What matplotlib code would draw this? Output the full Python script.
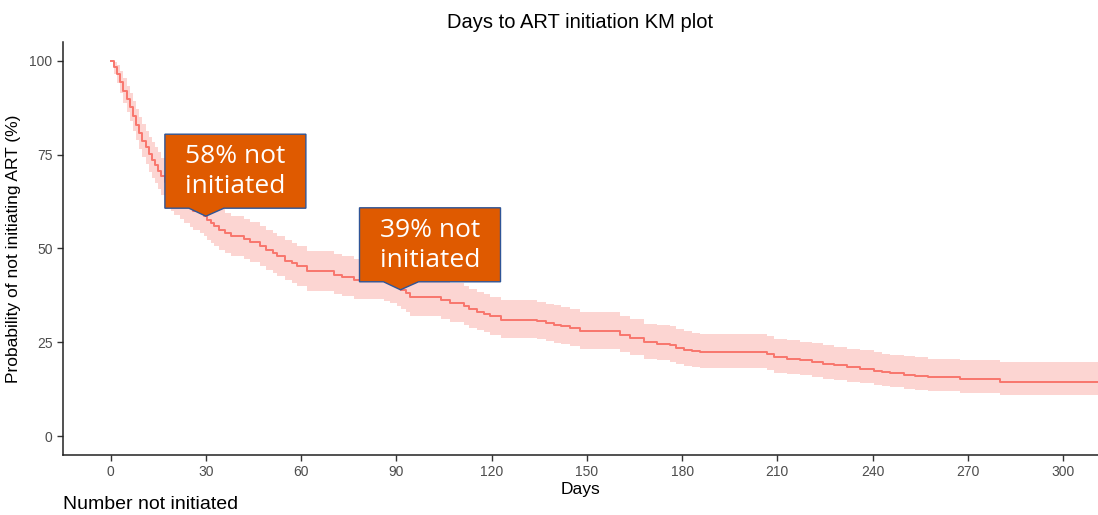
import matplotlib
matplotlib.use("Agg")
import matplotlib.pyplot as plt
import matplotlib.transforms as mtransforms
from matplotlib.patches import Polygon

# KM estimate (step function, value holds from each time onward)
days = [0, 1, 2, 3, 4, 5, 6, 7, 8, 9, 10, 11, 12, 13, 14, 15, 16, 17, 18, 19, 20, 22, 23,
        25, 26, 28, 29.4, 30.5, 31.5, 32.5, 34, 36, 37.8, 42, 44, 47.2, 49, 51, 52.5, 55,
        57, 58.8, 61.9, 70.3, 73, 76.6, 86, 88, 90.2, 91.3, 93, 94.4, 103.9, 107, 111.2,
        113, 115.4, 117.5, 119.6, 122.8, 134.3, 137, 139.5, 142, 144.8, 147.9, 160.5,
        163.7, 167.9, 172, 176.3, 178, 180.5, 183, 185.7, 206.7, 208.8, 213, 217.2, 221,
        224.5, 228, 231.9, 236, 240.3, 243, 245.5, 250, 253.4, 257.6, 267.5, 280, 311]
surv = [100, 98.3, 96.5, 94.3, 92, 89.8, 87.6, 85.3, 83, 80.8, 78.7, 76.9, 75.1, 73.6,
        72.2, 70.7, 69.2, 67.8, 66.5, 65.3, 64.2, 63.2, 62.1, 61.1, 60.1, 59.5, 58.6, 57.6,
        56.8, 56.0, 55.0, 54.0, 53.3, 52.4, 51.6, 50.6, 49.6, 48.7, 47.9, 46.8, 46.1, 45.3,
        43.9, 43.0, 42.5, 41.7, 41.3, 40.6, 39.9, 39.0, 38.2, 37.2, 36.4, 35.5, 34.6, 33.9,
        33.2, 32.6, 31.9, 31.0, 30.6, 30.1, 29.7, 29.3, 28.8, 27.9, 27.0, 26.1, 25.0, 24.6,
        24.3, 23.6, 23.0, 22.7, 22.3, 21.9, 21.0, 20.7, 20.3, 19.8, 19.3, 18.9, 18.4, 18.0,
        17.5, 17.1, 16.8, 16.4, 16.0, 15.7, 15.2, 14.5, 14.5]
upper = [100, 99.6, 98.8, 97.2, 95.3, 93.4, 91.4, 89.3, 87.2, 85.1, 83.1, 81.4, 79.7,
         78.3, 77.0, 75.6, 74.2, 72.9, 71.7, 70.5, 69.5, 68.5, 67.5, 66.5, 65.5, 64.9,
         64.0, 63.0, 62.2, 61.4, 60.4, 59.4, 58.7, 57.8, 57.0, 56.0, 55.0, 54.1, 53.3,
         52.2, 51.5, 50.7, 49.3, 48.4, 47.9, 47.1, 46.7, 46.0, 45.3, 44.4, 43.5, 42.5,
         41.7, 40.8, 39.9, 39.2, 38.4, 37.8, 37.1, 36.2, 35.8, 35.3, 34.9, 34.5, 34.0,
         33.0, 32.1, 31.2, 30.0, 29.6, 29.3, 28.6, 27.9, 27.6, 27.2, 26.8, 25.9, 25.6,
         25.2, 24.7, 24.2, 23.8, 23.3, 22.9, 22.4, 22.0, 21.7, 21.4, 21.0, 20.7, 20.3,
         19.9, 19.9]
lower = [100, 96.5, 94.0, 91.4, 88.8, 86.3, 83.9, 81.4, 78.9, 76.5, 74.3, 72.4, 70.5,
         68.9, 67.4, 65.8, 64.2, 62.7, 61.3, 60.1, 58.9, 57.9, 56.8, 55.8, 54.8, 54.2,
         53.3, 52.3, 51.5, 50.7, 49.7, 48.7, 48.0, 47.1, 46.3, 45.3, 44.3, 43.4, 42.6,
         41.5, 40.8, 40.0, 38.7, 37.8, 37.3, 36.5, 36.1, 35.4, 34.7, 33.8, 33.0, 32.1,
         31.3, 30.5, 29.6, 28.9, 28.3, 27.7, 27.0, 26.1, 25.8, 25.3, 24.9, 24.5, 24.0,
         23.2, 22.4, 21.6, 20.6, 20.2, 19.9, 19.3, 18.7, 18.4, 18.1, 17.7, 16.9, 16.6,
         16.2, 15.8, 15.3, 14.9, 14.5, 14.1, 13.7, 13.3, 13.1, 12.7, 12.4, 12.1, 11.6,
         11.0, 11.0]

x_ticks = [0, 30, 60, 90, 120, 150, 180, 210, 240, 270, 300]
y_ticks = [0, 25, 50, 75, 100]

# callouts: (day the arrow points at, label)
callouts = [(30, "58% not\ninitiated"), (91.3, "39% not\ninitiated")]

RED = "#F8766D"
ORANGE = "#DF5A00"
EDGE = "#2F5597"
FONT = ["Liberation Sans", "DejaVu Sans"]

fig = plt.figure(figsize=(10.98, 5.15), dpi=100)
ax = fig.add_axes([0.0574, 0.1165, 0.9426, 0.802])

ax.fill_between(days, lower, upper, step="post", color=RED, alpha=0.3, lw=0)
ax.step(days, surv, where="post", color=RED, lw=1.4)

ax.set_xlim(-15, 311)
ax.set_ylim(-5, 105)
ax.set_xticks(x_ticks)
ax.set_yticks(y_ticks)
for s in ["top", "right"]:
    ax.spines[s].set_visible(False)
for s in ["left", "bottom"]:
    ax.spines[s].set_linewidth(1.1)
    ax.spines[s].set_color("#222222")
ax.tick_params(length=4, width=1, labelsize=10, color="#333333", labelcolor="#4D4D4D")
for lab in ax.get_xticklabels() + ax.get_yticklabels():
    lab.set_family(FONT)
ax.set_xlabel("Days", fontsize=12.5, family=FONT, labelpad=2)
ax.set_ylabel("Probability of not initiating ART (%)", fontsize=12.5, family=FONT, labelpad=6)
ax.set_title("Days to ART initiation KM plot", fontsize=14.5, family=FONT, pad=10)

# speech-bubble callouts, shape given in pixels relative to the tip
shape = [(-41, 8), (-17, 8), (0, 0), (18, 8), (100, 8), (100, 82), (-41, 82)]
for d, label in callouts:
    # tip sits on the curve value at that day
    idx = max(i for i, t in enumerate(days) if t <= d)
    tr = fig.dpi_scale_trans + mtransforms.ScaledTranslation(d, surv[idx], ax.transData)
    pts = [(px / 100, py / 100) for px, py in shape]
    ax.add_patch(Polygon(pts, closed=True, transform=tr, facecolor=ORANGE,
                         edgecolor=EDGE, lw=1.0, zorder=5, clip_on=False))
    ax.text(0.295, 0.445, label, transform=tr, ha="center", va="center", color="white",
            fontsize=19, family=["Open Sans", "DejaVu Sans"], linespacing=1.25, zorder=6)

fig.text(63 / 1098, 0.036, "Number not initiated", fontsize=14, family=FONT, va="top")

fig.savefig("out.png", dpi=100)
